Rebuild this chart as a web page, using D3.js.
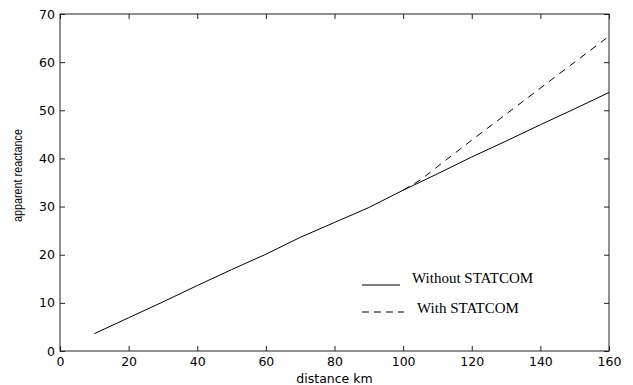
<html>
<head>
<script src="https://d3js.org/d3.v7.min.js"></script>
<style>
  body { margin: 0; background: #fff; }
  text { fill: #000; }
</style>
</head>
<body>
<svg width="633" height="385"></svg>
<script>
  // values
  const distance = [10, 20, 30, 40, 50, 60, 70, 80, 90, 100, 110, 120, 130, 140, 150, 160];
  const withoutStatcom = [3.6, 6.9, 10.2, 13.6, 16.9, 20.1, 23.6, 26.7, 29.8, 33.4, 36.8, 40.3, 43.6, 47.0, 50.3, 53.7];
  const withDistance = [100, 105, 110, 120, 130, 140, 150, 160];
  const withStatcom = [33.4, 35.5, 38.3, 43.8, 49.2, 54.6, 60.0, 65.4];
  const xTicks = [0, 20, 40, 60, 80, 100, 120, 140, 160];
  const yTicks = [0, 10, 20, 30, 40, 50, 60, 70];

  const svg = d3.select("svg");
  const mLeft = 60, mRight = 609, mTop = 14, mBottom = 351;

  const x = d3.scaleLinear().domain([0, 160]).range([mLeft, mRight]);
  const y = d3.scaleLinear().domain([0, 70]).range([mBottom, mTop]);

  const tickFont = "DejaVu Sans, Verdana, sans-serif";

  // box
  svg.append("rect")
    .attr("x", mLeft).attr("y", mTop)
    .attr("width", mRight - mLeft).attr("height", mBottom - mTop)
    .attr("fill", "none").attr("stroke", "#222").attr("stroke-width", 1);

  // ticks on all four sides, pointing inward
  const axB = svg.append("g").attr("transform", `translate(0,${mBottom})`)
    .call(d3.axisBottom(x).tickValues(xTicks).tickSizeInner(-5).tickSizeOuter(0).tickPadding(6));
  const axT = svg.append("g").attr("transform", `translate(0,${mTop})`)
    .call(d3.axisTop(x).tickValues(xTicks).tickSizeInner(-5).tickSizeOuter(0).tickFormat(""));
  const axL = svg.append("g").attr("transform", `translate(${mLeft},0)`)
    .call(d3.axisLeft(y).tickValues(yTicks).tickSizeInner(-5).tickSizeOuter(0).tickPadding(5));
  const axR = svg.append("g").attr("transform", `translate(${mRight},0)`)
    .call(d3.axisRight(y).tickValues(yTicks).tickSizeInner(-5).tickSizeOuter(0).tickFormat(""));

  [axB, axT, axL, axR].forEach(g => {
    g.select(".domain").remove();
    g.selectAll("line").attr("stroke", "#222");
    g.selectAll("text").attr("font-family", tickFont).attr("font-size", 12.5).attr("fill", "#000");
  });

  // axis labels
  svg.append("text")
    .attr("x", (mLeft + mRight) / 2).attr("y", 383)
    .attr("text-anchor", "middle")
    .attr("font-family", tickFont).attr("font-size", 12.5)
    .text("distance km");

  svg.append("text")
    .attr("transform", `translate(22,${(mTop + mBottom) / 2 - 7}) rotate(-90)`)
    .attr("text-anchor", "middle")
    .attr("font-family", "Liberation Sans, Arial, sans-serif").attr("font-size", 12)
    .attr("textLength", 93).attr("lengthAdjust", "spacingAndGlyphs")
    .text("apparent reactance");

  // lines
  const line = d3.line().x(d => x(d[0])).y(d => y(d[1]));

  svg.append("path")
    .datum(d3.zip(distance, withoutStatcom))
    .attr("d", line)
    .attr("fill", "none").attr("stroke", "#000").attr("stroke-width", 1);

  svg.append("path")
    .datum(d3.zip(withDistance, withStatcom))
    .attr("d", line)
    .attr("fill", "none").attr("stroke", "#000").attr("stroke-width", 1)
    .attr("stroke-dasharray", "7,6");

  // legend
  const legend = svg.append("g").attr("font-family", "Liberation Serif, Times New Roman, serif").attr("font-size", 15);
  legend.append("line").attr("x1", 362).attr("x2", 400).attr("y1", 285).attr("y2", 285)
    .attr("stroke", "#000").attr("stroke-width", 1);
  legend.append("text").attr("x", 412).attr("y", 283).text("Without STATCOM");
  legend.append("line").attr("x1", 362).attr("x2", 404).attr("y1", 312).attr("y2", 312)
    .attr("stroke", "#000").attr("stroke-width", 1).attr("stroke-dasharray", "7,5");
  legend.append("text").attr("x", 417).attr("y", 313).text("With STATCOM");
</script>
</body>
</html>
